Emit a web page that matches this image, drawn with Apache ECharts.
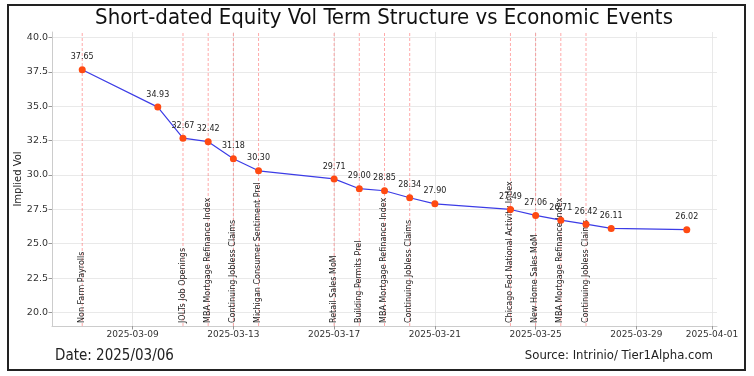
<!DOCTYPE html>
<html>
<head>
<meta charset="utf-8">
<script src="https://cdn.jsdelivr.net/npm/echarts@6/dist/echarts.min.js"></script>
<style>
html,body{margin:0;padding:0;background:#fff;}
#chart{width:754px;height:376px;}
</style>
</head>
<body>
<div id="chart"></div>
<script>
// ---- data ----
const dates = ['2025-03-07','2025-03-10','2025-03-11','2025-03-12','2025-03-13','2025-03-14','2025-03-17','2025-03-18','2025-03-19','2025-03-20','2025-03-21','2025-03-24','2025-03-25','2025-03-26','2025-03-27','2025-03-28','2025-03-31'];
const vols = [37.65,34.93,32.67,32.42,31.18,30.30,29.71,29.00,28.85,28.34,27.90,27.49,27.06,26.71,26.42,26.11,26.02];
const eventDates = ['2025-03-07','2025-03-11','2025-03-12','2025-03-13','2025-03-14','2025-03-17','2025-03-18','2025-03-19','2025-03-20','2025-03-24','2025-03-25','2025-03-26','2025-03-27'];
const eventNames = ['Non Farm Payrolls','JOLTs Job Openings','MBA Mortgage Refinance Index','Continuing Jobless Claims','Michigan Consumer Sentiment Prel','Retail Sales MoM','Building Permits Prel','MBA Mortgage Refinance Index','Continuing Jobless Claims','Chicago Fed National Activity Index','New Home Sales MoM','MBA Mortgage Refinance Index','Continuing Jobless Claims'];
const xTickDates = ['2025-03-09','2025-03-13','2025-03-17','2025-03-21','2025-03-25','2025-03-29','2025-04-01'];
const yTicks = [20,22.5,25,27.5,30,32.5,35,37.5,40];
const titleText = 'Short-dated Equity Vol Term Structure vs Economic Events';
const dateText = 'Date: 2025/03/06';
const sourceText = 'Source: Intrinio/ Tier1Alpha.com';

// ---- helpers ----
const DAY = 86400000;
const ts = s => Date.parse(s + 'T00:00:00Z');
const fmt = v => { const d = new Date(v); return d.toISOString().slice(0,10); };
const X_MIN = ts(dates[0]) - 1.2*DAY;
const X_MAX = ts(dates[dates.length-1]) + 1.2*DAY;
const Y_MIN = 19.02, Y_MAX = 40.39;

const chart = echarts.init(document.getElementById('chart'), null, {renderer:'canvas'});
const TF = '"Liberation Sans Narrow","DejaVu Sans Condensed",sans-serif';

chart.setOption({
  animation:false,
  backgroundColor:'#fff',
  grid:{left:52, right:37, top:32, bottom:50, containLabel:false},
  graphic:[
    {type:'rect', shape:{x:8,y:5,width:737,height:365}, style:{fill:'none', stroke:'#222', lineWidth:2}, z:100},
    {type:'text', x:384, y:18, style:{text:titleText, fontSize:22, fontFamily:TF, fill:'#111', align:'center', verticalAlign:'middle'}},
    {type:'text', x:55, y:356, style:{text:dateText, fontSize:15, fontFamily:TF, fill:'#222', align:'left', verticalAlign:'middle'}},
    {type:'text', x:713, y:356, style:{text:sourceText, fontSize:13, fontFamily:TF, fill:'#222', align:'right', verticalAlign:'middle'}}
  ],
  xAxis:{
    type:'value', min:X_MIN, max:X_MAX,
    axisLine:{show:true, lineStyle:{color:'#cccccc', width:1}},
    axisTick:{show:true, length:3.5, lineStyle:{color:'#999'}, customValues:xTickDates.map(ts)},
    axisLabel:{customValues:xTickDates.map(ts), formatter:v=>fmt(v), fontSize:9, color:'#333', fontFamily:'DejaVu Sans', margin:4},
    splitLine:{show:true, lineStyle:{color:'#e3e3e3', width:0.8}}
  },
  yAxis:{
    type:'value', min:Y_MIN, max:Y_MAX,
    name:'Implied Vol', nameLocation:'middle', nameGap:29, nameMoveOverlap:false,
    nameTextStyle:{fontSize:10, color:'#222', fontFamily:'DejaVu Sans'},
    axisLine:{show:true, lineStyle:{color:'#cccccc', width:1}},
    axisTick:{show:true, length:3.5, lineStyle:{color:'#999'}, customValues:yTicks},
    axisLabel:{customValues:yTicks, formatter:v=>v.toFixed(1), fontSize:9.5, color:'#333', fontFamily:'DejaVu Sans', margin:4},
    splitLine:{show:true, lineStyle:{color:'#e3e3e3', width:0.8}}
  },
  series:[
    {
      type:'custom', z:1, silent:true, clip:false,
      data:eventDates.map((d,i)=>[ts(d), i]),
      renderItem:(params, api)=>{
        const x = api.value(0);
        const idx = api.value(1);
        const p0 = api.coord([x, Y_MIN]);
        const p1 = api.coord([x, Y_MAX]);
        return {type:'group', children:[
          {type:'line', shape:{x1:p0[0],y1:p0[1],x2:p1[0],y2:p1[1]}, style:{stroke:'rgba(255,60,60,0.55)', lineWidth:0.8, lineDash:[3,2]}},
          {type:'text', x:p0[0]-0.5, y:p0[1]-3, rotation:Math.PI/2, style:{text:eventNames[idx], fontSize:8, fill:'#222', fontFamily:'DejaVu Sans', align:'left', verticalAlign:'middle'}}
        ]};
      }
    },
    {
      type:'line', z:5,
      data:dates.map((d,i)=>[ts(d), vols[i]]),
      lineStyle:{color:'#3c3ce6', width:1.2},
      symbol:'circle', symbolSize:7,
      itemStyle:{color:'#ff4a12'},
      label:{show:true, position:'top', distance:5, fontSize:8, color:'#222', fontFamily:'DejaVu Sans', formatter:p=>p.value[1].toFixed(2)}
    }
  ]
});
</script>
</body>
</html>
